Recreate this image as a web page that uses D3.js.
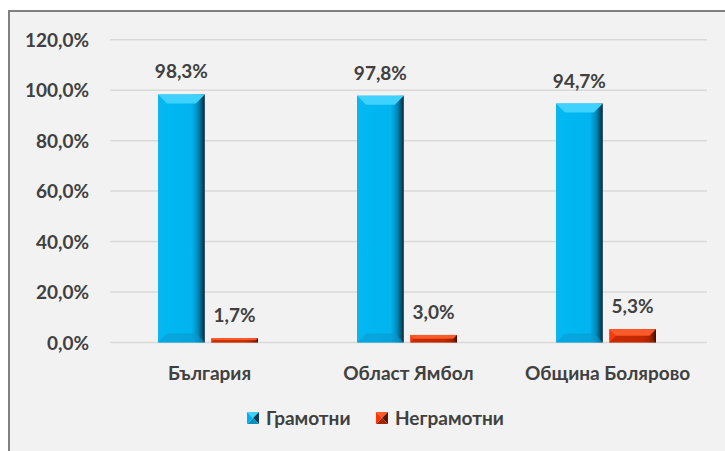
<!DOCTYPE html>
<meta charset="utf-8">
<style>
body { margin: 0; background: #fff; font-family: 'Lato', sans-serif; }
.tick text, .lbl, .cat, .leg { font-family: 'Lato', sans-serif; font-weight: bold; fill: #404040; }
</style>
<body>
<svg id="chart" width="725" height="451"></svg>
<script src="https://cdnjs.cloudflare.com/ajax/libs/d3/7.8.5/d3.min.js"></script>
<script>

var categories = ["България", "Област Ямбол", "Община Болярово"];
var literate = [98.3, 97.8, 94.7];
var illiterate = [1.7, 3.0, 5.3];
var seriesNames = ["Грамотни", "Неграмотни"];
var tickValues = [0, 20, 40, 60, 80, 100, 120];

var fmt = function(v) { return v.toFixed(1).replace(".", ",") + "%"; };
var fs = 19;

var svg = d3.select("#chart");

// panel
svg.append("rect").attr("x", 9).attr("y", 11).attr("width", 730).attr("height", 460)
  .attr("fill", "#f2f2f2").attr("stroke", "#808080").attr("stroke-width", 2);

var x0 = d3.scaleBand().domain(categories).range([110, 707]);
var y = d3.scaleLinear().domain([0, 120]).range([342.5, 39.7]);

var defs = svg.append("defs");
function grad(id, stops) {
  var g = defs.append("linearGradient").attr("id", id).attr("x1", 0).attr("x2", 1).attr("y1", 0).attr("y2", 0);
  stops.forEach(function(s) { g.append("stop").attr("offset", s[0]).attr("stop-color", s[1]); });
}
grad("blueBody", [[0, "#12b4ec"], [0.1, "#00b8f2"], [0.72, "#00b4ef"], [0.86, "#0088ba"], [1, "#0a2a38"]]);
grad("redBody", [[0, "#f03a10"], [0.1, "#ff3a0a"], [0.72, "#f53500"], [0.86, "#b82600"], [1, "#3a0c00"]]);

// grid
svg.append("g").selectAll("line").data(tickValues).enter().append("line")
  .attr("x1", 110).attr("x2", 707)
  .attr("y1", function(d) { return y(d); }).attr("y2", function(d) { return y(d); })
  .attr("stroke", "#d9d9d9").attr("stroke-width", 1.5);

var yAxis = svg.append("g").attr("transform", "translate(89,0)")
  .call(d3.axisLeft(y).tickValues(tickValues).tickFormat(fmt).tickSize(0).tickPadding(0));
yAxis.select(".domain").remove();
yAxis.selectAll("text").attr("font-size", fs).attr("dy", "0.35em");

var x1 = d3.scaleBand().domain([0, 1]).range([48, 148]).paddingInner(0.12);

var bars = [];
categories.forEach(function(c, i) {
  bars.push({cat: c, s: 0, v: literate[i]});
  bars.push({cat: c, s: 1, v: illiterate[i]});
});

var colors = [
  {body: "url(#blueBody)", top: "#3fd2ff", bottom: "#0a9ad0"},
  {body: "url(#redBody)", top: "#ff5a2a", bottom: "#a02200"}
];

var g = svg.append("g");
bars.forEach(function(d) {
  var bx = x0(d.cat) + x1(d.s), bw = x1.bandwidth();
  var by = y(d.v), bh = y(0) - y(d.v);
  var c = colors[d.s];
  var bv = Math.min(9, bh / 2);
  g.append("rect").attr("x", bx).attr("y", by).attr("width", bw).attr("height", bh).attr("fill", c.body);
  // top bevel
  g.append("polygon").attr("fill", c.top)
    .attr("points", [[bx, by], [bx + bw, by], [bx + bw - bv, by + bv], [bx + bv, by + bv]].join(" "));
  // bottom bevel
  g.append("polygon").attr("fill", c.bottom).attr("opacity", 0.6)
    .attr("points", [[bx, by + bh], [bx + bw, by + bh], [bx + bw - bv, by + bh - bv], [bx + bv, by + bh - bv]].join(" "));
  g.append("text").attr("class", "lbl").attr("font-size", fs).attr("text-anchor", "middle")
    .attr("x", bx + bw / 2).attr("y", by - 16).text(fmt(d.v));
});

svg.append("g").selectAll("text").data(categories).enter().append("text")
  .attr("class", "cat").attr("font-size", fs).attr("text-anchor", "middle")
  .attr("x", function(d) { return x0(d) + x0.bandwidth() / 2; }).attr("y", 380)
  .text(function(d) { return d; });

// legend
var legX = [247, 376];
var markerCols = [
  ["#3fd2ff", "#0a3d55", "#00b0f0", "#0a8fc0"],
  ["#ff5a2a", "#5a1400", "#ff3300", "#a02400"]
];
seriesNames.forEach(function(n, i) {
  var lx = legX[i], ly = 412, s = 12, m = markerCols[i];
  var cx = lx + s / 2, cy = ly + s / 2;
  var tri = [
    [[lx, ly], [lx + s, ly], [cx, cy], m[0]],
    [[lx + s, ly], [lx + s, ly + s], [cx, cy], m[1]],
    [[lx, ly + s], [lx + s, ly + s], [cx, cy], m[3]],
    [[lx, ly], [lx, ly + s], [cx, cy], m[2]]
  ];
  tri.forEach(function(t) {
    svg.append("polygon").attr("points", [t[0], t[1], t[2]].join(" ")).attr("fill", t[3]);
  });
  svg.append("text").attr("class", "leg").attr("font-size", fs)
    .attr("x", lx + s + 7).attr("y", ly + s / 2).attr("dy", "0.35em").text(n);
});

</script>
</body>
